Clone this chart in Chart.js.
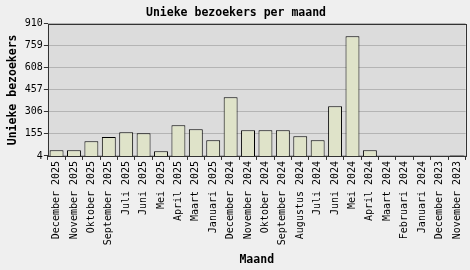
<!DOCTYPE html>
<html>
<head>
<meta charset="utf-8">
<script src="https://cdn.jsdelivr.net/npm/chart.js@4/dist/chart.umd.min.js"></script>
<style>
  html, body { margin: 0; padding: 0; background: #efefef; }
  #wrap { width: 470px; height: 270px; }
</style>
</head>
<body>
<div id="wrap"><canvas id="myChart" width="470" height="270"></canvas></div>
<script>
// maanden, nieuwste eerst
const maanden = ['December 2025', 'November 2025', 'Oktober 2025', 'September 2025', 'Juli 2025',
  'Juni 2025', 'Mei 2025', 'April 2025', 'Maart 2025', 'Januari 2025', 'December 2024',
  'November 2024', 'Oktober 2024', 'September 2024', 'Augustus 2024', 'Juli 2024', 'Juni 2024',
  'Mei 2024', 'April 2024', 'Maart 2024', 'Februari 2024', 'Januari 2024', 'December 2023',
  'November 2023'];
const bezoekers = [43, 43, 105, 134, 166, 159, 36, 214, 187, 111, 406,
  180, 180, 180, 139, 111, 345, 825, 43, 4, 4, 4, 4, 7];
const yMin = 4;
const yMax = 910;
const yStap = 151;

const font = 'DejaVu Sans Mono';

// grijze achtergrond + kader om het plotgebied
const plotVlak = {
  id: 'plotVlak',
  beforeDraw(chart) {
    const a = chart.chartArea, c = chart.ctx;
    c.save();
    c.fillStyle = '#dcdcdc';
    c.fillRect(a.left, a.top, a.right - a.left, a.bottom - a.top);
    c.restore();
  },
  afterDraw(chart) {
    const a = chart.chartArea, c = chart.ctx;
    c.save();
    c.strokeStyle = '#333';
    c.lineWidth = 1;
    c.strokeRect(Math.round(a.left) + 0.5, Math.round(a.top) + 0.5,
      Math.round(a.right - a.left), Math.round(a.bottom - a.top));
    c.restore();
  }
};

let ctx = document.querySelector('#myChart').getContext('2d');
let myChart = new Chart(ctx, {
  type: 'bar',
  data: {
    labels: maanden,
    datasets: [{
      label: 'Unieke bezoekers',
      data: bezoekers,
      backgroundColor: '#dfe3c9',
      borderColor: '#000',
      borderWidth: 1,
      barPercentage: 0.8,
      categoryPercentage: 1
    }]
  },
  plugins: [plotVlak],
  options: {
    responsive: false,
    animation: false,
    layout: { padding: { left: 6, right: 4, top: 0, bottom: 0 } },
    plugins: {
      legend: { display: false },
      tooltip: { enabled: false },
      title: {
        display: true,
        text: 'Unieke bezoekers per maand',
        color: '#000',
        font: { family: font, size: 11.5, weight: 'bold' },
        padding: { top: 6, bottom: 4 }
      }
    },
    scales: {
      x: {
        offset: true,
        grid: { display: true, drawOnChartArea: false, tickLength: 4, color: '#333', offset: true },
        border: { display: false },
        ticks: {
          color: '#000',
          font: { family: font, size: 10 },
          minRotation: 90, maxRotation: 90,
          autoSkip: false,
          padding: 1
        },
        title: {
          display: true,
          text: 'Maand',
          color: '#000',
          font: { family: font, size: 11.5, weight: 'bold' },
          padding: { top: 7, bottom: 3 }
        }
      },
      y: {
        min: yMin,
        max: yMax,
        grid: { color: '#b4b4b4', tickLength: 4, tickColor: '#333' },
        border: { display: false },
        ticks: {
          stepSize: yStap,
          color: '#000',
          font: { family: font, size: 10 },
          padding: 1
        },
        title: {
          display: true,
          text: 'Unieke bezoekers',
          color: '#000',
          font: { family: font, size: 11.5, weight: 'bold' },
          padding: { top: 0, bottom: 4 }
        }
      }
    }
  }
});
</script>
</body>
</html>
